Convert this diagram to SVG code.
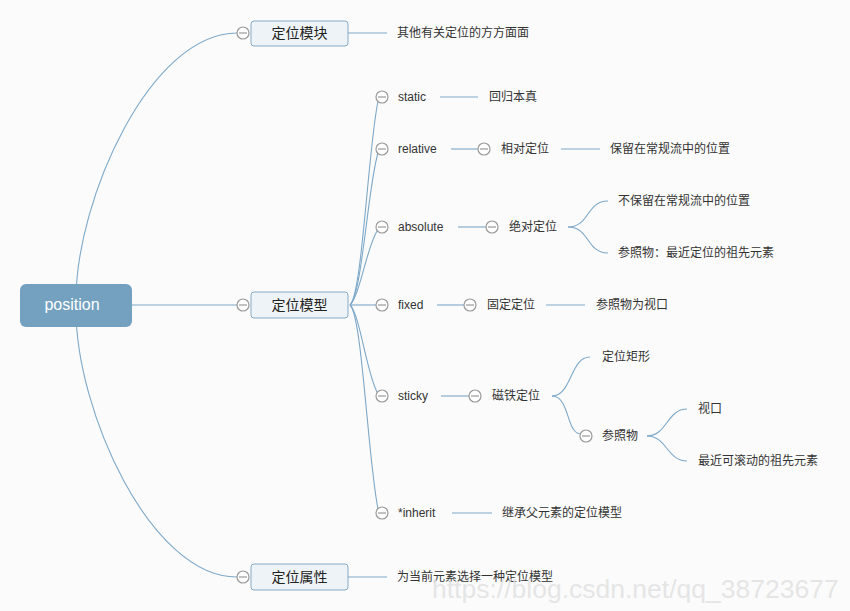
<svg xmlns="http://www.w3.org/2000/svg" width="850" height="611" viewBox="0 0 850 611">
<defs>
<style>
.bg{fill:#fbfbfb}
.c{fill:none;stroke:#7ea8c8;stroke-width:1.1}
.box{fill:#eef3f7;stroke:#86aac6;stroke-width:1}
.t{font-family:"Liberation Sans","Noto Sans CJK SC",sans-serif;font-size:12px;fill:#333}
.h{font-family:"Liberation Sans","Noto Sans CJK SC",sans-serif;font-size:14px;fill:#222;text-anchor:middle}
.tg{fill:#fff;stroke:#999;stroke-width:1.2}
.tgl{stroke:#999;stroke-width:1.2}
</style>
<g id="toggle"><circle class="tg" cx="0" cy="0" r="6"/><line class="tgl" x1="-4" y1="0" x2="4" y2="0"/></g>
</defs>
<rect class="bg" x="0" y="0" width="850" height="611"/>
<g id="connectors">
<path class="c" d="M76,300 C76,200 150,33 237,33"/>
<path class="c" d="M76,310 C76,410 150,577 237,577"/>
<path class="c" d="M132,305 L237,305"/>
<path class="c" d="M348,33 L387,33"/>
<path class="c" d="M348,577 L387,577"/>
<path class="c" d="M350,305 C362,295 368,150 378,101"/>
<path class="c" d="M350,305 C362,295 368,185 378,153"/>
<path class="c" d="M350,305 C360,295 366,250 377,231"/>
<path class="c" d="M350,305 L376,305"/>
<path class="c" d="M350,305 C360,315 366,370 377,392"/>
<path class="c" d="M350,305 C362,315 368,460 378,509"/>
<path class="c" d="M440,97 L478,97"/>
<path class="c" d="M451,149 L478,149"/>
<path class="c" d="M561,149 L600,149"/>
<path class="c" d="M458,227 L486,227"/>
<path class="c" d="M568,227 C590,227 586,201 608,201"/>
<path class="c" d="M568,227 C590,227 586,253 608,253"/>
<path class="c" d="M437,305 L464,305"/>
<path class="c" d="M546,305 L585,305"/>
<path class="c" d="M441,396 L469,396"/>
<path class="c" d="M552,396 C572,396 570,357 590,357"/>
<path class="c" d="M552,396 C570,396 566,434 581,434"/>
<path class="c" d="M647,436 C667,436 667,409 687,409"/>
<path class="c" d="M647,436 C667,436 667,461 687,461"/>
<path class="c" d="M452,513 L492,513"/>
</g>
<g id="root">
<rect x="20" y="284" width="112" height="43" rx="6" fill="#73a1bf"/>
<text x="72" y="309.5" font-family="Liberation Sans, sans-serif" font-size="16" fill="#fff" text-anchor="middle">position</text>
</g>
<g id="n-module">
<use href="#toggle" x="243" y="33"/>
<rect class="box" x="251" y="21" width="97" height="25" rx="3"/>
<text class="h" x="299.5" y="38">定位模块</text>
<text class="t" x="397" y="37">其他有关定位的方方面面</text>
</g>
<g id="n-model">
<use href="#toggle" x="243" y="305"/>
<rect class="box" x="251" y="292" width="97" height="26" rx="3"/>
<text class="h" x="299.5" y="310">定位模型</text>
</g>
<g id="n-attr">
<use href="#toggle" x="243" y="577"/>
<rect class="box" x="251" y="564" width="97" height="26" rx="3"/>
<text class="h" x="299.5" y="582">定位属性</text>
<text class="t" x="397" y="581">为当前元素选择一种定位模型</text>
</g>
<g id="n-static">
<use href="#toggle" x="382" y="97"/>
<text class="t" x="398" y="101">static</text>
<text class="t" x="489" y="101">回归本真</text>
</g>
<g id="n-relative">
<use href="#toggle" x="382" y="149"/>
<text class="t" x="398" y="153">relative</text>
<use href="#toggle" x="484" y="149"/>
<text class="t" x="501" y="153">相对定位</text>
<text class="t" x="610" y="153">保留在常规流中的位置</text>
</g>
<g id="n-absolute">
<use href="#toggle" x="382" y="227"/>
<text class="t" x="398" y="231">absolute</text>
<use href="#toggle" x="492" y="227"/>
<text class="t" x="509" y="231">绝对定位</text>
<text class="t" x="618" y="205">不保留在常规流中的位置</text>
<text class="t" x="618" y="257">参照物：最近定位的祖先元素</text>
</g>
<g id="n-fixed">
<use href="#toggle" x="382" y="305"/>
<text class="t" x="398" y="309">fixed</text>
<use href="#toggle" x="470" y="305"/>
<text class="t" x="487" y="309">固定定位</text>
<text class="t" x="596" y="309">参照物为视口</text>
</g>
<g id="n-sticky">
<use href="#toggle" x="382" y="396"/>
<text class="t" x="398" y="400">sticky</text>
<use href="#toggle" x="475" y="396"/>
<text class="t" x="492" y="400">磁铁定位</text>
<text class="t" x="602" y="361">定位矩形</text>
<use href="#toggle" x="586" y="436"/>
<text class="t" x="602" y="440">参照物</text>
<text class="t" x="698" y="413">视口</text>
<text class="t" x="698" y="465">最近可滚动的祖先元素</text>
</g>
<g id="n-inherit">
<use href="#toggle" x="382" y="513"/>
<text class="t" x="398" y="517">*inherit</text>
<text class="t" x="502" y="517">继承父元素的定位模型</text>
</g>
<text x="432" y="598" font-family="Liberation Sans, sans-serif" font-size="26.5" fill="#e2e2e2" fill-opacity="0.85">https://blog.csdn.net/qq_38723677</text>
</svg>
